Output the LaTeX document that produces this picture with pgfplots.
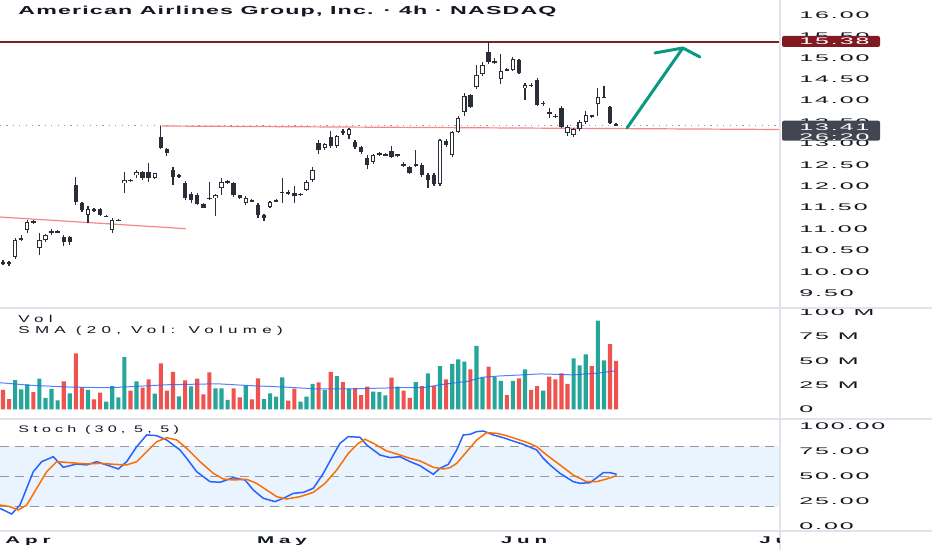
\documentclass[border=0pt]{standalone}
\usepackage{fontspec}
\setmainfont{Liberation Sans}
\newfontfamily\ttlfont{Liberation Sans Bold}[FakeStretch=2.0,LetterSpace=10]
\newfontfamily\monfont{Liberation Sans Bold}[FakeStretch=2.1,LetterSpace=50]
\newfontfamily\lblfont{Liberation Sans}[FakeStretch=1.7,LetterSpace=44]
\newfontfamily\smafont{Liberation Sans}[FakeStretch=1.7,LetterSpace=53]
\newfontfamily\tickfont{Liberation Sans}[FakeStretch=2.6,LetterSpace=20]
\usepackage{pgfplots}
\pgfplotsset{compat=1.18}
\usepackage{pgfplotstable}
\newcommand\lbl{\tickfont\fontsize{4.8pt}{5pt}\selectfont}
\definecolor{candle}{HTML}{2A2E39}
\definecolor{vteal}{HTML}{26A69A}
\definecolor{vred}{HTML}{EF5350}
\definecolor{kblue}{HTML}{2962FF}
\definecolor{dorange}{HTML}{FF6D00}
\definecolor{band}{RGB}{233,244,254}
\definecolor{dashc}{HTML}{9598A1}
\definecolor{sepc}{HTML}{E0E3EB}
\definecolor{txt}{HTML}{131722}
\definecolor{resred}{HTML}{7E1F24}
\definecolor{badgered}{HTML}{801922}
\definecolor{badgegray}{HTML}{434651}
\definecolor{trend}{HTML}{F7868A}
\definecolor{arrowc}{HTML}{089981}

\pgfplotstableread{
i o h l c
2 10.35 10.78 10.30 10.74
4 10.98 11.20 10.90 11.16
6 10.56 10.90 10.40 10.74
7 10.74 10.88 10.70 10.86
14 11.33 11.53 11.15 11.47
18 10.98 11.25 10.90 11.21
20 12.07 12.32 11.84 12.14
22 12.26 12.37 12.18 12.33
25 12.20 12.32 12.17 12.30
35 11.72 11.82 11.30 11.79
36 11.96 12.20 11.80 12.10
40 11.60 11.76 11.55 11.72
44 11.51 11.65 11.48 11.63
50 11.91 12.14 11.88 12.10
51 12.14 12.45 12.10 12.38
53 12.90 13.02 12.85 12.98
55 12.94 13.20 12.90 13.17
57 13.20 13.37 13.10 13.33
61 12.57 12.75 12.53 12.72
72 12.04 13.10 12.00 13.08
74 12.72 13.30 12.68 13.27
75 13.27 13.65 13.25 13.60
76 13.73 14.18 13.65 14.10
78 14.32 14.83 14.28 14.60
79 14.62 14.91 14.58 14.83
82 14.50 15.10 14.38 14.70
84 14.71 15.02 14.68 14.97
86 14.29 14.42 14.01 14.36
93 13.24 13.42 13.18 13.38
94 13.20 13.36 13.15 13.33
95 13.33 13.55 13.30 13.50
96 13.50 13.75 13.45 13.66
98 13.92 14.29 13.65 14.08
}\upc

\pgfplotstableread{
i o h l c
0 10.22 10.27 10.15 10.20
1 10.20 10.25 10.13 10.22
3 10.76 10.85 10.72 10.78
5 11.16 11.22 11.12 11.18
8 10.93 11.00 10.85 10.95
9 10.94 10.97 10.90 10.92
10 10.81 10.85 10.60 10.70
11 10.81 10.83 10.62 10.70
12 12.03 12.21 11.57 11.63
13 11.61 11.63 11.39 11.44
15 11.46 11.50 11.40 11.44
16 11.46 11.50 11.30 11.33
17 11.31 11.33 11.27 11.29
19 11.20 11.24 11.18 11.22
21 12.13 12.17 12.10 12.15
23 12.33 12.36 12.15 12.19
24 12.33 12.55 12.10 12.19
26 13.15 13.41 12.86 12.89
27 12.87 12.90 12.70 12.78
28 12.38 12.45 12.03 12.22
29 12.25 12.28 12.20 12.23
30 12.07 12.12 11.67 11.72
31 11.81 11.86 11.60 11.67
32 11.79 11.83 11.55 11.58
33 11.58 11.60 11.48 11.50
34 11.73 12.10 11.68 11.71
37 12.09 12.15 12.05 12.11
38 12.07 12.10 11.75 11.79
39 11.79 11.80 11.70 11.72
41 11.67 11.70 11.62 11.65
42 11.56 11.60 11.25 11.33
43 11.33 11.36 11.18 11.26
45 11.65 11.70 11.62 11.67
46 11.85 12.20 11.60 11.87
47 11.86 11.90 11.80 11.84
48 11.85 12.00 11.60 11.76
49 11.80 11.84 11.78 11.82
52 13.00 13.08 12.75 12.85
54 13.15 13.30 12.90 12.94
56 13.26 13.33 13.20 13.28
58 13.03 13.08 12.88 12.92
59 12.92 12.95 12.76 12.80
60 12.66 12.72 12.40 12.50
62 12.75 12.80 12.70 12.77
63 12.74 12.78 12.70 12.72
64 12.83 12.95 12.66 12.69
65 12.72 12.76 12.68 12.74
66 12.52 12.56 12.45 12.49
67 12.45 12.48 12.28 12.31
68 12.49 12.85 12.45 12.51
69 12.50 12.55 12.22 12.26
70 12.26 12.30 11.95 12.14
71 12.26 12.30 12.00 12.04
73 13.06 13.10 12.92 12.97
77 14.14 14.16 13.82 13.86
80 15.14 15.40 14.86 14.90
81 14.92 15.00 14.85 14.90
83 14.71 14.75 14.68 14.73
85 14.95 14.98 14.62 14.64
87 14.35 14.40 14.32 14.37
88 14.48 14.52 13.88 13.90
89 13.95 14.00 13.88 13.93
90 13.72 13.82 13.60 13.70
91 13.64 13.68 13.60 13.62
92 13.83 13.88 13.35 13.38
97 13.63 13.67 13.60 13.65
99 14.07 14.35 14.05 14.09
100 13.85 13.88 13.45 13.48
101 13.44 13.47 13.40 13.42
}\dnc

\pgfplotstableread{
i v
2 30.4
3 20.8
4 26
6 31.8
7 11.9
8 21.2
9 9.5
11 16.7
14 20.1
17 8
18 24.2
19 12.6
20 54.1
22 29
25 16.3
29 13.6
31 23.9
35 21.8
36 21.8
37 9.8
40 24.9
43 10.8
44 16.7
45 13.2
46 33.2
49 8
50 13.2
51 26.3
53 20.1
55 34.5
57 21.5
61 18.4
62 18
63 14.6
65 23.5
68 28.3
70 37.3
72 44.8
74 46.9
75 51.7
76 49.3
78 65.5
79 33.2
81 33.8
82 29.4
84 29.4
86 41.4
89 19.4
94 52.8
95 45.6
96 56.9
98 91.5
99 50.7
}\volT

\pgfplotstableread{
i v
0 20.1
1 10.8
5 18
10 29
12 57.9
13 22.9
15 10.5
16 17.3
21 19.4
23 22.5
24 31.1
26 47.6
27 19.4
28 38.7
30 30.1
32 31.8
33 15.7
34 38.3
38 21.8
39 12.6
41 10.5
42 32.1
47 9.1
48 21.5
52 28
54 38.7
56 28.3
58 22.2
59 14.9
60 23.5
64 32.8
66 19.4
67 11.9
69 24.2
71 24.2
73 31.1
77 41.4
80 44.1
83 14.9
85 32.1
87 20.1
88 24.2
90 33.8
91 31.1
92 37.3
93 26.3
97 44.8
100 67.5
101 50
}\volR

\pgfplotsset{tv/.style={scale only axis, width=389.5pt,
  xmin=-0.494, xmax=127.84,
  axis line style={draw=none}, major tick length=0pt,
  xtick=\empty, yticklabel pos=right,
  yticklabel style={anchor=west, inner sep=0pt, xshift=10pt, font=\lbl, text=txt}}}

\begin{document}
\begin{tikzpicture}
\useasboundingbox (0,0) rectangle (466pt,275pt);
\fill[white] (0,0) rectangle (466pt,275pt);

% ---------------- price panel
\begin{axis}[tv, at={(0,121.5pt)}, anchor=south west, height=153.5pt,
  ymin=9.178, ymax=16.35,
  ytick={9.5,10,10.5,11,11.5,12,12.5,13,13.5,14,14.5,15,15.5,16},
  yticklabels={9.50,10.00,10.50,11.00,11.50,12.00,12.50,13.00,13.50,14.00,14.50,15.00,15.50,16.00}]
\addplot[resred, line width=1pt] coordinates {(-0.494,15.38) (127.84,15.38)};
\addplot[dashc, line width=0.6pt, dash pattern=on 0.6pt off 2.6pt] coordinates {(-0.494,13.41) (127.84,13.41)};
\addplot[trend, line width=0.6pt] coordinates {(26.2,13.406) (127.84,13.325)};
\addplot[trend, line width=0.6pt] coordinates {(-0.494,11.28) (30.15,11.007)};
% wicks
\addplot[draw=none, mark=none, error bars/.cd, y dir=both, y explicit, error mark=none,
  error bar style={draw=candle, line width=0.6pt}]
  table[x=i, y expr={(\thisrow{h}+\thisrow{l})/2}, y error expr={(\thisrow{h}-\thisrow{l})/2}] {\upc};
\addplot[draw=none, mark=none, error bars/.cd, y dir=both, y explicit, error mark=none,
  error bar style={draw=candle, line width=0.6pt}]
  table[x=i, y expr={(\thisrow{h}+\thisrow{l})/2}, y error expr={(\thisrow{h}-\thisrow{l})/2}] {\dnc};
% bodies
\addplot[draw=none, mark=none, error bars/.cd, y dir=both, y explicit, error mark=none,
  error bar style={draw=candle, line width=2.2pt}]
  table[x=i, y expr={(\thisrow{o}+\thisrow{c})/2}, y error expr={max(abs(\thisrow{c}-\thisrow{o})/2,0.012)}] {\dnc};
\addplot[draw=none, mark=none, error bars/.cd, y dir=both, y explicit, error mark=none,
  error bar style={draw=candle, line width=2.2pt}]
  table[x=i, y expr={(\thisrow{o}+\thisrow{c})/2}, y error expr={(\thisrow{c}-\thisrow{o})/2}] {\upc};
\addplot[draw=none, mark=none, error bars/.cd, y dir=both, y explicit, error mark=none,
  error bar style={draw=white, line width=1.1pt}]
  table[x=i, y expr={(\thisrow{o}+\thisrow{c})/2}, y error expr={(\thisrow{c}-\thisrow{o})/2-0.026}] {\upc};
% arrow
\addplot[arrowc, line width=1.5pt, line cap=round] coordinates {(102.8,13.36) (112.0,15.229)};
\addplot[arrowc, line width=1.5pt, line cap=round, line join=round] coordinates {(107.4,15.112) (112.0,15.229) (114.8,15.019)};
\end{axis}

% ---------------- volume panel
\begin{axis}[tv, at={(0,66pt)}, anchor=south west, height=54.5pt,
  ymin=-8.76, ymax=103.6,
  ytick={0,25,50,75,100}, yticklabels={0,25 M,50 M,75 M,100 M}]
\addplot[ybar, bar shift=0pt, bar width=0.68, fill=vteal, draw=none] table[x=i,y=v] {\volT};
\addplot[ybar, bar shift=0pt, bar width=0.68, fill=vred, draw=none] table[x=i,y=v] {\volR};
\addplot[kblue, opacity=0.8, line width=0.5pt] coordinates {
(-0.49,27.6) (4.45,25) (10.54,23.2) (17.63,22.4) (27.02,25.5) (35.26,26.5) (40.69,24.6)
(46.13,23.2) (51.73,21.2) (57.17,21.2) (65.4,22.5) (69.19,22.4) (71.99,25.5) (76.44,28.9)
(79.08,33.3) (81.88,34.6) (85.67,35.7) (88.47,36.7) (93.9,35.7) (97.86,37.4) (100.82,39.8)};
\end{axis}

% ---------------- stochastic panel
\begin{axis}[tv, at={(0,9.5pt)}, anchor=south west, height=55.5pt,
  ymin=-4.27, ymax=105.96,
  ytick={0,25,50,75,100}, yticklabels={0.00,25.00,50.00,75.00,100.00},
  xtick={4.12,45.96,85.83}, xticklabels={Apr,May,Jun},
  xticklabel style={anchor=base, inner sep=0pt, yshift=-6.3pt, text=txt,
    font=\monfont\fontsize{4.9pt}{5pt}\selectfont}]
\addplot[draw=none, fill=band] coordinates {(-0.494,20) (127.84,20) (127.84,80) (-0.494,80)} -- cycle;
\addplot[dashc, line width=0.5pt, dash pattern=on 4.5pt off 3pt] coordinates {(-0.494,80) (127.84,80)};
\addplot[dashc, line width=0.5pt, dash pattern=on 4.5pt off 3pt] coordinates {(-0.494,50) (127.84,50)};
\addplot[dashc, line width=0.5pt, dash pattern=on 4.5pt off 3pt] coordinates {(-0.494,20) (127.84,20)};
\addplot[kblue, line width=0.75pt] coordinates {
(-0.49,18.2) (1.43,12.6) (2.80,21.5) (4.99,54.6) (6.38,64.6) (8.29,69.5) (9.93,59.0)
(12.14,62.3) (13.79,61.3) (15.44,64.6) (17.08,61.3) (19.0,57.3) (20.38,64.6) (22.03,79.5)
(23.67,91.1) (25.32,90.4) (26.97,86.1) (29.16,76.2) (30.26,67.9) (31.91,54.6) (34.1,44.7)
(35.75,44.1) (37.94,48.7) (39.87,46.4) (41.24,36.4) (42.88,28.2) (44.81,24.9) (46.18,28.2)
(47.83,33.1) (49.47,34.1) (51.12,38.1) (52.77,53.0) (54.42,71.2) (55.52,82.8) (56.89,89.4)
(58.81,88.8) (59.92,81.1) (62.11,71.2) (63.76,68.6) (65.4,69.5) (67.05,64.6) (68.7,60.6)
(70.89,52.0) (71.99,58.0) (73.36,61.9) (74.74,76.2) (75.83,91.1) (76.94,91.7) (78.04,94.4)
(79.13,95.0) (80.77,91.1) (82.42,88.4) (84.35,84.4) (85.72,81.8) (87.92,76.2) (89.01,67.9)
(90.12,61.3) (91.76,53.0) (93.95,44.7) (95.06,43.1) (96.71,43.7) (98.9,53.7) (100.0,53.7)
(101.1,52.0)};
\addplot[dorange, line width=0.75pt] coordinates {
(-0.49,21.5) (1.15,19.9) (2.52,16.6) (3.9,21.5) (5.55,38.1) (7.2,54.6) (8.85,64.6)
(11.04,63.6) (13.79,62.3) (15.98,62.9) (18.17,62.0) (20.38,61.3) (22.03,64.6) (23.67,74.5)
(25.32,84.4) (26.97,88.4) (28.62,86.1) (30.26,77.8) (32.45,64.6) (34.65,53.0) (36.29,47.4)
(37.94,46.4) (40.15,47.0) (41.8,43.0) (43.44,36.4) (45.09,29.8) (46.74,27.5) (48.93,29.8)
(51.12,34.1) (53.05,43.0) (54.98,56.3) (56.89,72.8) (58.53,82.8) (59.64,86.8) (61.0,82.8)
(63.21,75.2) (65.4,71.2) (67.05,67.9) (68.7,65.3) (70.89,59.0) (72.54,57.3) (73.64,58.6)
(74.74,62.9) (76.39,74.5) (78.04,86.1) (79.69,93.4) (81.33,92.7) (82.98,90.4) (84.63,87.1)
(86.28,83.8) (87.92,79.5) (89.57,71.2) (91.76,61.3) (93.95,51.3) (96.15,44.7) (97.8,44.7)
(99.46,47.4) (101.1,50.7)};
\end{axis}

% separators
\draw[sepc, line width=1pt] (0,121pt) -- (466pt,121pt);
\draw[sepc, line width=1pt] (0,65.5pt) -- (466pt,65.5pt);
\draw[sepc, line width=1pt] (0,9.25pt) -- (466pt,9.25pt);
\draw[sepc, line width=1pt] (390pt,0) -- (390pt,275pt);

% Jul label, clipped by price scale
\begin{scope}
\clip (0,0) rectangle (389.5pt,9pt);
\node[anchor=base west, inner sep=0pt, text=txt, font=\monfont\fontsize{4.9pt}{5pt}\selectfont] at (379.5pt,3.2pt) {Jul};
\end{scope}

% badges
\fill[badgered, rounded corners=1pt] (391pt,251.5pt) rectangle (440pt,257pt);
\node[anchor=west, inner sep=0pt, text=white, font=\lbl] at (399.5pt,254.25pt) {15.38};
\fill[badgegray, rounded corners=1pt] (391pt,204.65pt) rectangle (440pt,214.65pt);
\node[anchor=west, inner sep=0pt, text=white, font=\lbl] at (399.5pt,211.5pt) {13.41};
\node[anchor=west, inner sep=0pt, text=white, font=\lbl] at (399.5pt,206.6pt) {26:20};

% texts
\node[anchor=base west, inner sep=0pt, text=txt] at (9pt,267.5pt)
  {\ttlfont\fontsize{5.8pt}{6pt}\selectfont American Airlines Group, Inc. · 4h · NASDAQ};
\node[anchor=base west, inner sep=0pt, text=txt] at (9pt,113.5pt)
  {\smafont\fontsize{5pt}{6pt}\selectfont Vol};
\node[anchor=base west, inner sep=0pt, text=txt] at (9pt,108pt)
  {\smafont\fontsize{5pt}{6pt}\selectfont SMA (20, Vol: Volume)};
\node[anchor=base west, inner sep=0pt, text=txt] at (9pt,58.5pt)
  {\lblfont\fontsize{4.75pt}{6pt}\selectfont Stoch (30, 5, 5)};
\end{tikzpicture}
\end{document}
